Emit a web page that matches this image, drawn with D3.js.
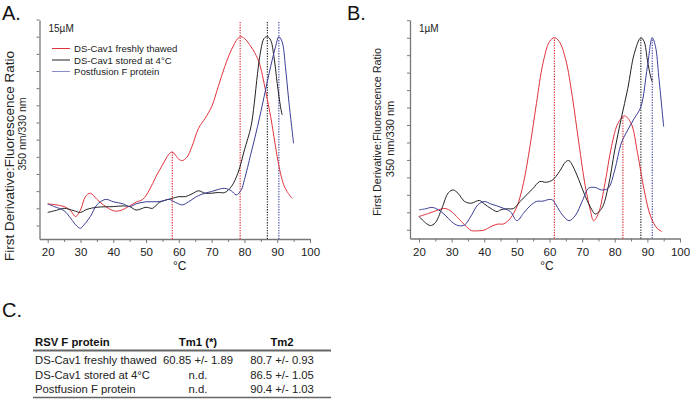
<!DOCTYPE html>
<html>
<head>
<meta charset="utf-8">
<script src="https://cdn.jsdelivr.net/npm/d3@7"></script>
<style>
  body { margin: 0; background: #fff; }
  svg { font-family: "Liberation Sans", Arial, sans-serif; }
</style>
</head>
<body>
<svg id="chart" width="690" height="402"></svg>
<script>
// ---- data: [temperature °C, first derivative (normalised, peak = 5)] ----
const thawedA = [[20,0.13],[25,0.05],[27,-0.07],[28.5,-0.24],[30,-0.05],[31.5,0.34],[33,0.44],[35,0.26],[37,0.1],
  [40,-0.07],[42,-0.07],[45,0.07],[47,0.18],[49,0.26],[51,0.53],[53,0.92],[55,1.26],[57,1.58],[58,1.64],[60,1.43],
  [61,1.39],[62.5,1.49],[64,1.8],[66,2.33],[68,2.62],[70,2.96],[72,3.54],[74,4.13],[76,4.61],[78,4.95],[79,5.0],
  [80,4.95],[82,4.71],[84,4.37],[85,4.08],[86,3.64],[88,2.67],[89,2.09],[90,1.5],[91,1.02],[92,0.68],[93,0.49],[94.5,0.29]];
const storedA = [[20,-0.12],[23,-0.05],[25,0],[28,-0.07],[30,-0.12],[32,-0.03],[35,0.03],[40,0.05],[43,0.07],[45,0.05],
  [47,-0.05],[50,0.03],[52,0],[54,0.17],[56,0.24],[58,0.29],[60,0.34],[62,0.34],[64,0.42],[66,0.51],[68,0.44],[70,0.44],
  [72,0.46],[74,0.46],[76,0.63],[78,1.02],[80,1.7],[82,2.38],[83,3.06],[84,3.93],[85,4.61],[86,4.95],[87,5.0],[88,4.9],
  [89,4.42],[90,3.64],[91,2.96],[91.5,2.72]];
const postA = [[20,0.13],[22,0.05],[25,-0.07],[27,-0.29],[29,-0.53],[30,-0.58],[31,-0.49],[33,-0.24],[35,0.1],[37,0.24],
  [38,0.26],[40,0.19],[43,0.13],[45,0.05],[47,0.13],[50,0.19],[53,0.19],[55,0.21],[57,0.26],[59,0.17],[61,0.1],[63,0.19],
  [65,0.32],[67,0.41],[70,0.49],[72,0.55],[74,0.58],[76,0.51],[77.5,0.39],[79,0.53],[80,0.83],[82,1.6],[84,2.38],
  [86,3.25],[88,4.13],[89.5,4.71],[90.5,5.0],[91.5,4.85],[92.5,4.13],[93.5,3.16],[95,1.89]];

const thawedB = [[20,-0.12],[23,-0.03],[26,0.07],[28,0.11],[30,0.02],[32,-0.17],[34,-0.36],[36,-0.52],[38,-0.53],[40,-0.51],
  [42,-0.41],[44,-0.34],[46,-0.33],[48,-0.17],[50,0.16],[52,0.83],[54,1.88],[56,3.12],[58,4.27],[60,4.89],[61.5,5.0],
  [63,4.89],[65,4.36],[67,3.31],[69,1.98],[71,0.73],[72.5,0.07],[73.5,-0.24],[75,-0.03],[77,0.83],[79,1.88],[81,2.55],
  [83,2.76],[85,2.55],[87,1.69],[89,0.64],[91,-0.12],[93,-0.46],[94.5,-0.55]];
const storedB = [[20,-0.12],[22,-0.3],[23.5,-0.38],[25,-0.3],[27,0.11],[29,0.56],[30.5,0.64],[32,0.54],[34,0.31],[36,0.26],
  [38.5,0.34],[40,0.24],[42,0.11],[44,0.02],[45,0.07],[47,0.1],[49,0.11],[51,0.31],[53,0.5],[55,0.69],[57,0.88],[59,0.86],
  [61,0.93],[63,1.16],[65,1.45],[66,1.48],[67,1.35],[69,0.93],[71,0.45],[73,0.07],[74,-0.05],[76,0.11],[78,0.73],
  [80,1.78],[82,2.69],[84,3.55],[86,4.55],[88,5.0],[89,4.89],[90,4.36],[91,3.88],[91.5,3.74]];
const postB = [[20,0.07],[22,0.1],[24,0.14],[26,0.07],[28,-0.08],[30,-0.27],[32,-0.38],[34,-0.36],[36,-0.1],[38,0.21],
  [40,0.31],[42,0.24],[44,0.18],[46,0.11],[48,0.02],[50,-0.24],[52,-0.03],[54,0.18],[56,0.31],[58,0.32],[60,0.37],
  [61,0.35],[62,0.21],[64,-0.08],[66,-0.24],[68,-0.08],[70,0.31],[72,0.69],[74,0.71],[76,0.64],[78,0.69],[80,1.21],
  [82,1.98],[84,2.36],[86,2.69],[88,3.02],[90,4.17],[91.5,5.0],[92.5,4.74],[93.5,3.88],[95,2.45]];

// Tm markers: [temperature, top value of the dotted line, series]
const markersA = [[58,1.64,"thawed"],[78.7,5.43,"thawed"],[87,5.43,"stored"],[90.5,5.43,"post"]];
const markersB = [[61.5,5.0,"thawed"],[82.5,2.76,"thawed"],[88,5.0,"stored"],[91.5,5.0,"post"]];

const legendNames = ["DS-Cav1 freshly thawed", "DS-Cav1 stored at 4°C", "Postfusion F protein"];
const xTickLabels = [20, 30, 40, 50, 60, 70, 80, 90, 100];

const tableHeader = ["RSV F protein", "Tm1 (*)", "Tm2"];
const tableRows = [
  ["DS-Cav1 freshly thawed", "60.85 +/- 1.89", "80.7 +/- 0.93"],
  ["DS-Cav1 stored at 4°C", "n.d.", "86.5 +/- 1.05"],
  ["Postfusion F protein", "n.d.", "90.4 +/- 1.03"]
];

const colors = { thawed: "#e0333d", stored: "#222222", post: "#3a3e96" };
const dotColors = { thawed: "#e0333d", stored: "#333333", post: "#4a4ea8" };

const svg = d3.select("#chart");

function drawPanel(p) {
  const g = svg.append("g");
  const x = d3.scaleLinear().domain([20, 100]).range([p.x20, p.x100]);
  const y = d3.scaleLinear().domain([0, 5]).range([p.y0, p.y5]);
  const xMin = x.invert(p.axisX);
  const yMin = y.invert(p.axisBottom), yMax = y.invert(20);

  // x axis
  const xa = x.copy().domain([xMin, 100]).range([p.axisX, p.x100]);
  const xAxis = g.append("g").attr("transform", `translate(0,${p.axisBottom})`)
    .call(d3.axisBottom(xa).tickValues(d3.range(20, 101, 5))
      .tickSize(4).tickSizeOuter(0)
      .tickFormat(d => xTickLabels.includes(d) ? d : ""));
  xAxis.selectAll(".tick line").attr("y2", d => d % 10 === 0 ? 4 : 3);

  // y axis (no labels)
  const ya = y.copy().domain([yMin, yMax]).range([p.axisBottom, 20]);
  const yAxis = g.append("g").attr("transform", `translate(${p.axisX},0)`)
    .call(d3.axisLeft(ya).tickValues(d3.range(-0.5, 5.51, 0.5))
      .tickSize(3).tickSizeOuter(0).tickFormat(""));

  [xAxis, yAxis].forEach(a => {
    a.select(".domain").attr("stroke", "#777").attr("stroke-width", 1.3);
    a.selectAll(".tick line").attr("stroke", "#777");
  });
  xAxis.selectAll("text").attr("font-size", 11.5).attr("fill", "#222")
    .attr("font-family", "Liberation Sans, Arial, sans-serif").attr("dy", "0.9em");

  // dotted Tm markers
  g.selectAll(".tm").data(p.markers).enter().append("line")
    .attr("x1", d => x(d[0])).attr("x2", d => x(d[0]))
    .attr("y1", p.axisBottom).attr("y2", d => y(d[1]))
    .attr("stroke", d => dotColors[d[2]]).attr("stroke-width", 1.2)
    .attr("stroke-dasharray", "1.3,1.3");

  // curves
  const line = d3.line().x(d => x(d[0])).y(d => y(d[1]))
    .curve(d3.curveCatmullRom.alpha(0.5));
  g.selectAll(".curve").data(p.series).enter().append("path")
    .attr("d", d => line(d.values)).attr("fill", "none")
    .attr("stroke", d => colors[d.key]).attr("stroke-width", 1);

  // labels
  g.append("text").attr("x", p.letterX).attr("y", 20).attr("font-size", 20).attr("fill", "#111").text(p.letter);
  g.append("text").attr("x", p.axisX + 9).attr("y", 32).attr("font-size", 10).attr("fill", "#222").text(p.conc);
  g.append("text").attr("x", (p.axisX + p.x100) / 2 + p.unitShift).attr("y", 270)
    .attr("text-anchor", "middle").attr("font-size", 12).attr("fill", "#222").text("°C");

  p.title.forEach(t => {
    g.append("text").attr("transform", `translate(${t.x},${t.cy}) rotate(-90)`)
      .attr("text-anchor", "middle").attr("font-size", t.size).attr("fill", "#222").text(t.text);
  });
  return g;
}

drawPanel({
  letter: "A.", letterX: 2, conc: "15µM", x20: 47.7, x100: 310, axisX: 39.5, axisBottom: 239,
  y0: 208.3, y5: 36.7, unitShift: 5,
  markers: markersA,
  series: [{key: "thawed", values: thawedA}, {key: "stored", values: storedA}, {key: "post", values: postA}],
  title: [{x: 14, cy: 156, size: 13.5, text: "First Derivative:Fluorescence Ratio"},
          {x: 26, cy: 134, size: 10.5, text: "350 nm/330 nm"}]
});

drawPanel({
  letter: "B.", letterX: 347, conc: "1µM", x20: 419, x100: 680, axisX: 410, axisBottom: 238.5,
  y0: 212.3, y5: 37.7, unitShift: 2,
  markers: markersB,
  series: [{key: "thawed", values: thawedB}, {key: "stored", values: storedB}, {key: "post", values: postB}],
  title: [{x: 381, cy: 132, size: 10.8, text: "First Derivative:Fluorescence Ratio"},
          {x: 394, cy: 139, size: 11, text: "350 nm/330 nm"}]
});

// legend in panel A
const legend = svg.append("g").selectAll("g").data(legendNames).enter().append("g")
  .attr("transform", (d, i) => `translate(52,${48.5 + i * 11.5})`);
legend.append("line").attr("x1", 0).attr("x2", 18)
  .attr("stroke", (d, i) => [colors.thawed, colors.stored, "#8a8cd0"][i]).attr("stroke-width", 1);
legend.append("text").attr("x", 22).attr("y", 3.5).attr("font-size", 9.6).attr("fill", "#222").text(d => d);

// table C
const tbl = svg.append("g");
tbl.append("text").attr("x", 2).attr("y", 317).attr("font-size", 20).attr("fill", "#111").text("C.");
const colX = [35, 198, 282];
const anchors = ["start", "middle", "middle"];
tbl.selectAll(".hdr").data(tableHeader).enter().append("text")
  .attr("x", (d, i) => colX[i]).attr("y", 346).attr("text-anchor", (d, i) => anchors[i])
  .attr("font-size", 11.3).attr("font-weight", "bold").attr("fill", "#111").text(d => d);
tbl.append("line").attr("x1", 33).attr("x2", 331).attr("y1", 350.5).attr("y2", 350.5)
  .attr("stroke", "#666").attr("stroke-width", 2);
tableRows.forEach((row, r) => {
  tbl.selectAll(".r" + r).data(row).enter().append("text")
    .attr("x", (d, i) => colX[i]).attr("y", 364 + r * 14.5).attr("text-anchor", (d, i) => anchors[i])
    .attr("font-size", 11.3).attr("fill", "#222").text(d => d);
});
tbl.append("line").attr("x1", 33).attr("x2", 331).attr("y1", 397.5).attr("y2", 397.5)
  .attr("stroke", "#666").attr("stroke-width", 1.5);
</script>
</body>
</html>
